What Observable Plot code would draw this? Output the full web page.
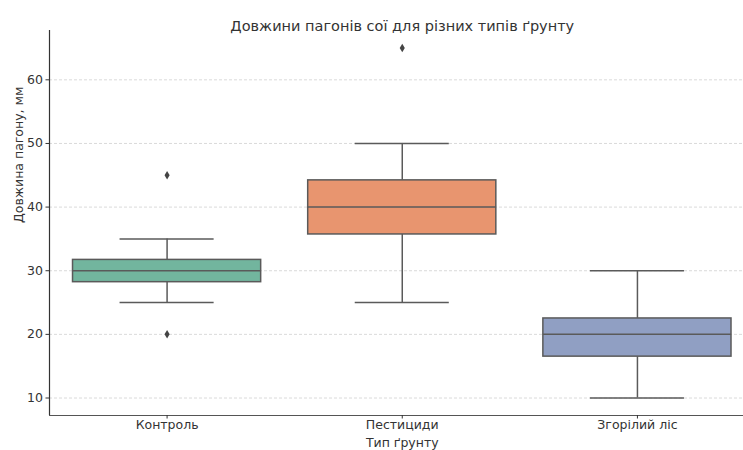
<!DOCTYPE html>
<html><head><meta charset="utf-8">
<script src="https://cdn.jsdelivr.net/npm/d3@7"></script>
<script src="https://cdn.jsdelivr.net/npm/@observablehq/plot@0.6"></script>
<style>
body{margin:0;background:#fff;}
svg{font-family:"DejaVu Sans",sans-serif;}
</style>
</head><body><div id="chart"></div>
<script>
const title = "Довжини пагонів сої для різних типів ґрунту";
const xLabel = "Тип ґрунту";
const yLabel = "Довжина пагону, мм";
const categories = ["Контроль", "Пестициди", "Згорілий ліс"];
const medians = [30, 40, 20];
const q1 = [28.2, 35.7, 16.5];
const q3 = [31.7, 44.2, 22.5];
const whiskerLow = [25, 25, 10];
const whiskerHigh = [35, 50, 30];
const outlierCategory = ["Контроль", "Контроль", "Пестициди"];
const outlierValues = [45, 20, 65];
const colors = ["#72b59e", "#e8956f", "#909fc3"];
const yTicks = [10, 20, 30, 40, 50, 60];

const boxes = categories.map((c, i) => ({
  i, c, med: medians[i], q1: q1[i], q3: q3[i], lo: whiskerLow[i], hi: whiskerHigh[i], color: colors[i]
}));
const outliers = outlierValues.map((v, k) => ({i: categories.indexOf(outlierCategory[k]), v}));

const thinDiamond = {
  draw(ctx, size) {
    const h = Math.sqrt(size) * 0.75, w = h * 0.6;
    ctx.moveTo(0, -h); ctx.lineTo(w, 0); ctx.lineTo(0, h); ctx.lineTo(-w, 0); ctx.closePath();
  }
};

const lineColor = "#5a5a5a";
const textColor = "#333";
const yMin = 7.25, yMax = 67.75;

const chart = Plot.plot({
  width: 743,
  height: 450,
  marginLeft: 49,
  marginRight: 0,
  marginTop: 30,
  marginBottom: 35,
  style: {fontSize: "12.5px", color: textColor, background: "#fff"},
  x: {type: "linear", domain: [-0.5, 2.451]},
  y: {domain: [yMin, yMax]},
  marks: [
    Plot.ruleY(yTicks, {stroke: "#d0d0d0", strokeWidth: 0.8, strokeDasharray: "3,2"}),
    // whiskers
    Plot.ruleX(boxes, {x: "i", y1: "lo", y2: "q1", stroke: lineColor, strokeWidth: 1.5}),
    Plot.ruleX(boxes, {x: "i", y1: "q3", y2: "hi", stroke: lineColor, strokeWidth: 1.5}),
    Plot.ruleY(boxes, {y: "lo", x1: d => d.i - 0.2, x2: d => d.i + 0.2, stroke: lineColor, strokeWidth: 1.5}),
    Plot.ruleY(boxes, {y: "hi", x1: d => d.i - 0.2, x2: d => d.i + 0.2, stroke: lineColor, strokeWidth: 1.5}),
    // boxes
    Plot.rect(boxes, {x1: d => d.i - 0.4, x2: d => d.i + 0.4, y1: "q1", y2: "q3", fill: "color", stroke: lineColor, strokeWidth: 1.5}),
    Plot.ruleY(boxes, {y: "med", x1: d => d.i - 0.4, x2: d => d.i + 0.4, stroke: lineColor, strokeWidth: 1.5}),
    // outliers
    Plot.dot(outliers, {x: "i", y: "v", symbol: thinDiamond, r: 3.2, fill: "#444", stroke: "none"}),
    // spines
    Plot.ruleX([-0.5], {y1: yMin, y2: yMax, stroke: "#333", strokeWidth: 1.2}),
    Plot.ruleY([yMin], {stroke: "#555", strokeWidth: 1.2}),
    // axes
    Plot.axisY({ticks: yTicks, tickSize: 3.5, tickPadding: 3, label: null, fontSize: 12.5}),
    Plot.axisX({ticks: [0, 1, 2], tickFormat: i => categories[i], tickSize: 3.5, tickPadding: 1.5, label: null, fontSize: 12.5}),
    // labels
    Plot.text([title], {x: () => 1, frameAnchor: "top", dy: -10, text: d => d, fontSize: 14.5, fill: textColor}),
    Plot.text([xLabel], {x: () => 1, frameAnchor: "bottom", dy: 27, lineAnchor: "middle", text: d => d, fontSize: 12.5, fill: textColor}),
    Plot.text([yLabel], {frameAnchor: "left", dx: -31, rotate: -90, text: d => d, fontSize: 12.5, fill: textColor})
  ]
});
document.getElementById("chart").appendChild(chart);
</script>
</body></html>
